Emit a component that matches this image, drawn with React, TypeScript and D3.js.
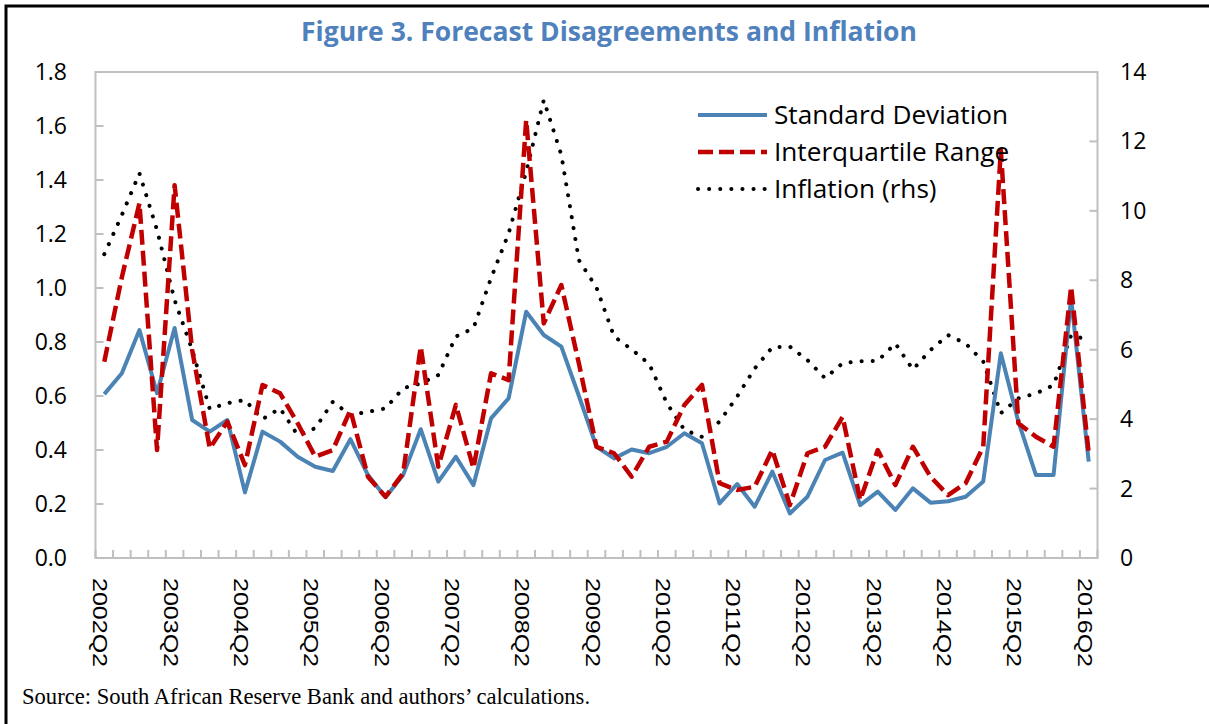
import * as d3 from 'd3';

// quarterly labels 2002Q2 .. 2016Q2
const quarters: string[] = [];
for (let y = 2002; y <= 2016; y++) {
  for (let q = 1; q <= 4; q++) {
    if ((y === 2002 && q < 2) || (y === 2016 && q > 2)) continue;
    quarters.push(`${y}Q${q}`);
  }
}

const stdDev = [
  0.607, 0.684, 0.844, 0.61, 0.852, 0.511, 0.468, 0.511, 0.243, 0.468,
  0.431, 0.375, 0.338, 0.322, 0.44, 0.307, 0.225, 0.307, 0.477, 0.283,
  0.375, 0.27, 0.517, 0.591, 0.912, 0.826, 0.783, 0.6, 0.412, 0.369,
  0.402, 0.388, 0.412, 0.462, 0.425, 0.202, 0.274, 0.19, 0.32, 0.165,
  0.227, 0.363, 0.39, 0.196, 0.246, 0.178, 0.258, 0.205, 0.21, 0.227,
  0.283, 0.758, 0.505, 0.307, 0.307, 0.962, 0.357,
];

const iqr = [
  0.727, 1.04, 1.314, 0.4, 1.381, 0.77, 0.406, 0.505, 0.344, 0.641,
  0.61, 0.499, 0.375, 0.4, 0.548, 0.301, 0.227, 0.314, 0.783, 0.338,
  0.567, 0.332, 0.684, 0.659, 1.622, 0.869, 1.011, 0.72, 0.412, 0.388,
  0.301, 0.412, 0.431, 0.567, 0.641, 0.277, 0.252, 0.264, 0.4, 0.196,
  0.388, 0.412, 0.523, 0.215, 0.4, 0.27, 0.412, 0.301, 0.233, 0.277,
  0.412, 1.511, 0.499, 0.449, 0.412, 1.005, 0.388,
];

const inflation = [
  8.75, 9.88, 11.08, 9.45, 7.43, 5.99, 4.29, 4.46, 4.55, 4.0,
  4.31, 3.54, 3.74, 4.5, 4.12, 4.21, 4.31, 4.89, 5.03, 5.27,
  6.38, 6.62, 8.06, 9.35, 11.13, 13.19, 11.61, 8.58, 7.79, 6.38,
  6.01, 5.59, 4.46, 3.69, 3.49, 3.93, 4.65, 5.46, 6.07, 6.09,
  5.7, 5.18, 5.61, 5.67, 5.68, 6.18, 5.43, 5.99, 6.42, 6.18,
  5.66, 4.17, 4.6, 4.74, 4.98, 6.42, 6.28,
];

const leftTicks = [0, 0.2, 0.4, 0.6, 0.8, 1.0, 1.2, 1.4, 1.6, 1.8];
const rightTicks = [0, 2, 4, 6, 8, 10, 12, 14];

const W = 1209;
const H = 724;
const plot = { left: 95.5, right: 1097.5, top: 72, bottom: 558 };

const BLUE = '#4b83b4';
const RED = '#c00000';
const TITLE = '#4f81bd';
const AXIS = '#bfbfbf';
const SANS = '"Open Sans", "Noto Sans", sans-serif';

export default function App() {
  const x = d3.scaleBand<string>().domain(quarters).range([plot.left, plot.right]).padding(0);
  const cx = (i: number) => (x(quarters[i]) ?? 0) + x.bandwidth() / 2;
  const yL = d3.scaleLinear().domain([0, 1.8]).range([plot.bottom, plot.top]);
  const yR = d3.scaleLinear().domain([0, 14]).range([plot.bottom, plot.top]);

  const lineL = d3.line<number>().x((_, i) => cx(i)).y(d => yL(d));
  const lineR = d3.line<number>().x((_, i) => cx(i)).y(d => yR(d));

  const bounds = quarters.map(q => x(q) ?? 0).concat([plot.right]);

  const legend = [
    { label: 'Standard Deviation', color: BLUE, width: 4, dash: undefined, cap: 'butt' },
    { label: 'Interquartile Range', color: RED, width: 4.5, dash: '15 6', cap: 'butt' },
    { label: 'Inflation (rhs)', color: '#000', width: 4, dash: '0.1 11', cap: 'round' },
  ];

  return (
    <svg width={W} height={H} style={{ position: 'absolute', left: 0, top: 0, background: '#fff' }}>
      {/* outer frame */}
      <path d={`M6,${H + 5} V6 H${W + 5}`} fill="none" stroke="#000" strokeWidth={3} />

      <text x={609} y={41} textAnchor="middle" fontFamily={SANS} fontWeight={700}
        fontSize={26.5} fill={TITLE}>
        Figure 3. Forecast Disagreements and Inflation
      </text>

      {/* plot frame */}
      <rect x={plot.left} y={plot.top} width={plot.right - plot.left} height={plot.bottom - plot.top}
        fill="none" stroke={AXIS} strokeWidth={2} />

      {/* left axis */}
      {leftTicks.map(t => (
        <g key={`l${t}`}>
          <line x1={plot.left} x2={plot.left + 8} y1={yL(t)} y2={yL(t)} stroke={AXIS} strokeWidth={2} />
          <text x={67} y={yL(t)} dy="0.35em" textAnchor="end" fontFamily={SANS} fontSize={23} fill="#000">
            {t.toFixed(1)}
          </text>
        </g>
      ))}

      {/* right axis */}
      {rightTicks.map(t => (
        <g key={`r${t}`}>
          <line x1={plot.right - 8} x2={plot.right} y1={yR(t)} y2={yR(t)} stroke={AXIS} strokeWidth={2} />
          <text x={1120} y={yR(t)} dy="0.35em" textAnchor="start" fontFamily={SANS} fontSize={23} fill="#000">
            {t}
          </text>
        </g>
      ))}

      {/* bottom category ticks */}
      {bounds.map((b, i) => (
        <line key={`b${i}`} x1={b} x2={b} y1={plot.bottom} y2={plot.bottom - 8} stroke={AXIS} strokeWidth={2} />
      ))}

      {quarters.map((q, i) => (i % 4 === 0 ? (
        <text key={q} transform={`translate(${cx(i) - 4},578) rotate(90)`} dy="0.35em"
          fontFamily='"Liberation Sans", Arial, sans-serif' fontSize={20} fill="#000"
          textLength={89} lengthAdjust="spacingAndGlyphs">
          {q}
        </text>
      ) : null))}

      {/* series */}
      <path d={lineR(inflation) ?? ''} fill="none" stroke="#000" strokeWidth={4}
        strokeDasharray="0.1 11" strokeLinecap="round" />
      <path d={lineL(stdDev) ?? ''} fill="none" stroke={BLUE} strokeWidth={4} strokeLinejoin="round" />
      <path d={lineL(iqr) ?? ''} fill="none" stroke={RED} strokeWidth={4.5}
        strokeDasharray="15 6" strokeLinejoin="round" />

      {/* legend */}
      {legend.map((l, i) => {
        const ly = 115 + i * 37;
        return (
          <g key={l.label}>
            <line x1={698} x2={767} y1={ly} y2={ly} stroke={l.color} strokeWidth={l.width}
              strokeDasharray={l.dash} strokeLinecap={l.cap as any} />
            <text x={774} y={ly} dy="0.36em" fontFamily={SANS} fontSize={26.2} fill="#000">{l.label}</text>
          </g>
        );
      })}

      <text x={22} y={704} fontFamily='"Liberation Serif", "Times New Roman", serif' fontSize={22.6} fill="#000">
        Source: South African Reserve Bank and authors’ calculations.
      </text>
    </svg>
  );
}
